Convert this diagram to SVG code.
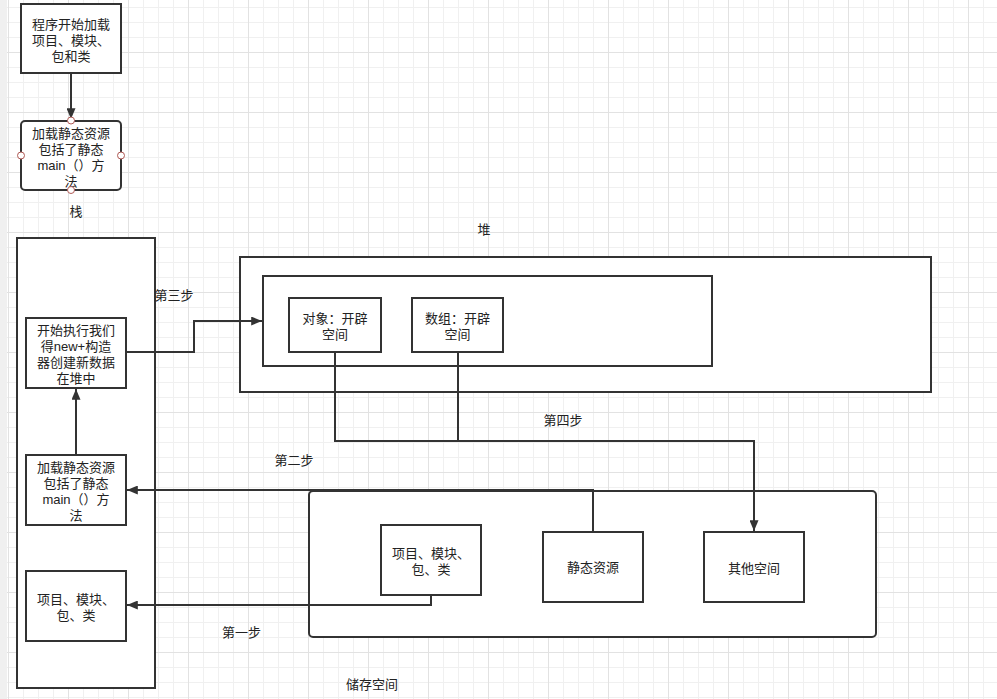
<svg xmlns="http://www.w3.org/2000/svg" width="997" height="699" viewBox="0 0 997 699">
<defs>
<pattern id="grid" patternUnits="userSpaceOnUse" x="8" y="-8" width="60" height="60">
<rect width="60" height="60" fill="#ffffff"/>
<path d="M15.5,0V60M30.5,0V60M45.5,0V60M0,15.5H60M0,30.5H60M0,45.5H60" stroke="#f0f0f0" stroke-width="1" fill="none"/>
<path d="M0.5,0V60M0,0.5H60" stroke="#e2e2e2" stroke-width="1" fill="none"/>
</pattern>
<marker id="arr" viewBox="0 0 12 10" refX="12" refY="5" markerWidth="12" markerHeight="9" markerUnits="userSpaceOnUse" orient="auto">
<path d="M0,0L12,5L0,10Z" fill="#333333"/>
</marker>
<style>
.box{fill:#ffffff;stroke:#333333;stroke-width:2}
.t{font-family:"Liberation Sans","Noto Sans CJK SC",sans-serif;font-size:13px;fill:#222222;text-anchor:middle}
.conn{fill:none;stroke:#333333;stroke-width:2}
.pt{fill:#ffffff;stroke:#b05a55;stroke-width:1}
</style>
</defs>
<rect width="997" height="699" fill="url(#grid)"/>
<rect x="0" y="0" width="7" height="699" fill="#f0f0f0"/>

<g id="start">
<rect class="box" x="21" y="4" width="100" height="69"/>
<text class="t" x="71" y="28.5"><tspan x="71">程序开始加载</tspan><tspan x="71" dy="16">项目、模块、</tspan><tspan x="71" dy="16">包和类</tspan></text>
</g>

<g id="loadStatic1">
<rect class="box" x="21" y="121" width="100" height="69" rx="4"/>
<text class="t" x="71" y="137.5"><tspan x="71">加载静态资源</tspan><tspan x="71" dy="16">包括了静态</tspan><tspan x="71" dy="16">main（）方</tspan><tspan x="71" dy="16">法</tspan></text>
</g>

<g id="stackLabel"><text class="t" x="76" y="216">栈</text></g>

<g id="stack">
<rect class="box" x="17" y="238" width="138" height="450"/>
</g>

<g id="heap">
<rect class="box" x="240" y="257" width="691" height="135"/>
</g>
<g id="heapInner">
<rect class="box" x="263" y="276" width="449" height="90"/>
</g>

<g id="storage">
<rect class="box" x="309" y="491" width="567" height="146" rx="4"/>
</g>

<g id="execNew">
<rect class="box" x="26" y="318" width="100" height="70"/>
<text class="t" x="76" y="334.5"><tspan x="76">开始执行我们</tspan><tspan x="76" dy="16">得new+构造</tspan><tspan x="76" dy="16">器创建新数据</tspan><tspan x="76" dy="16">在堆中</tspan></text>
</g>

<g id="loadStatic2">
<rect class="box" x="26" y="455" width="100" height="70"/>
<text class="t" x="76" y="471.5"><tspan x="76">加载静态资源</tspan><tspan x="76" dy="16">包括了静态</tspan><tspan x="76" dy="16">main（）方</tspan><tspan x="76" dy="16">法</tspan></text>
</g>

<g id="stackModules">
<rect class="box" x="26" y="571" width="100" height="70"/>
<text class="t" x="76" y="603.5"><tspan x="76">项目、模块、</tspan><tspan x="76" dy="16">包、类</tspan></text>
</g>

<g id="object">
<rect class="box" x="289" y="298" width="92" height="54"/>
<text class="t" x="335" y="322.5"><tspan x="335">对象：开辟</tspan><tspan x="335" dy="16">空间</tspan></text>
</g>

<g id="array">
<rect class="box" x="412" y="298" width="91" height="54"/>
<text class="t" x="457.5" y="322.5"><tspan x="457.5">数组：开辟</tspan><tspan x="457.5" dy="16">空间</tspan></text>
</g>

<g id="storeModules">
<rect class="box" x="381" y="525" width="100" height="70"/>
<text class="t" x="431" y="557.5"><tspan x="431">项目、模块、</tspan><tspan x="431" dy="16">包、类</tspan></text>
</g>

<g id="staticRes">
<rect class="box" x="543" y="532" width="100" height="70"/>
<text class="t" x="593" y="571.5">静态资源</text>
</g>

<g id="other">
<rect class="box" x="704" y="532" width="100" height="70"/>
<text class="t" x="754" y="572.5">其他空间</text>
</g>

<g id="labels">
<text class="t" x="484" y="234">堆</text>
<text class="t" x="174" y="299.5">第三步</text>
<text class="t" x="563" y="424.5">第四步</text>
<text class="t" x="294" y="465">第二步</text>
<text class="t" x="241.5" y="636.5">第一步</text>
<text class="t" x="372" y="688.5">储存空间</text>
</g>

<g id="connectors">
<path class="conn" d="M71,73V119" marker-end="url(#arr)"/>
<path class="conn" d="M76,455V389" marker-end="url(#arr)"/>
<path class="conn" d="M126,352H194V321H262" marker-end="url(#arr)"/>
<path class="conn" d="M335,352V441H754V531" marker-end="url(#arr)"/>
<path class="conn" d="M458,352V441"/>
<path class="conn" d="M593,532V490H127" marker-end="url(#arr)"/>
<path class="conn" d="M431,595V605H127" marker-end="url(#arr)"/>
</g>

<g id="handles">
<circle class="pt" cx="71" cy="120.5" r="3.5"/>
<circle class="pt" cx="71" cy="190" r="3.5"/>
<circle class="pt" cx="21" cy="155.5" r="3.5"/>
<circle class="pt" cx="121" cy="155.5" r="3.5"/>
</g>
</svg>
